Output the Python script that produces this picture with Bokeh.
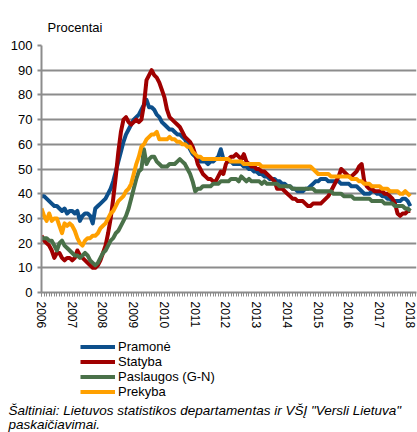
from bokeh.plotting import figure
from bokeh.layouts import column
from bokeh.models import (Legend, LegendItem, Label, FixedTicker, Range1d, Plot,
                          ColumnDataSource, Line)
from bokeh.embed import file_html
from bokeh.resources import INLINE

# ---- data (monthly, Jan 2006 .. Jan 2018) ----
start_year = 2006
series_names = ["Pramonė", "Statyba", "Paslaugos (G-N)", "Prekyba"]

pramone = [
    39, 39, 38, 37, 36, 35, 35, 34, 33, 34, 32, 33,
    33, 32, 33, 29, 31, 32, 32, 31, 28, 34, 35, 36,
    37, 38, 40, 42, 45, 49, 53, 57, 61, 64, 66, 68,
    70, 71, 72, 74, 76, 78, 75, 75, 74, 72, 71, 69,
    68, 67, 66, 66, 65, 64, 64, 63, 62, 60, 58, 56,
    55, 54, 53, 53, 53, 52, 53, 53, 54, 55, 58, 54,
    54, 53, 53, 52, 52, 52, 52, 51, 51, 50, 50, 49,
    49, 48, 48, 47, 47, 46, 46, 46, 45, 45, 44, 44,
    43, 43, 42, 42, 41, 41, 41, 42, 42, 43, 44, 45,
    45, 46, 46, 46, 45, 45, 45, 45, 45, 44, 44, 44,
    44, 43, 43, 43, 42, 41, 40, 40, 40, 41, 41, 40,
    40, 39, 39, 38, 38, 37, 37, 37, 37, 38, 38, 37,
    35,
]
statyba = [
    23, 21, 20, 19, 17, 14, 16, 16, 14, 13, 14, 14,
    13, 14, 17, 15, 14, 13, 12, 11, 10, 10, 11, 13,
    16, 19, 24, 30, 38, 47, 57, 65, 70, 71, 69, 68,
    69, 70, 69, 70, 76, 86, 88, 90, 88, 87, 85, 82,
    79, 74, 71, 70, 69, 68, 67, 65, 63, 62, 61, 59,
    56, 52, 50, 48, 47, 46, 46, 45, 45, 47, 49, 48,
    52, 54, 55, 55, 56, 55, 54, 56, 53, 52, 51, 51,
    50, 50, 49, 49, 48, 47, 46, 45, 42, 42, 42, 41,
    40, 39, 38, 38, 37, 37, 37, 36, 35, 35, 36, 36,
    36, 36, 37, 38, 39, 41, 43, 45, 47, 50, 49, 48,
    47, 47, 48, 49, 51, 52, 45, 43, 42, 42, 41, 41,
    41, 41, 40, 40, 39, 38, 36, 32, 31, 32, 32, 33,
    33,
]
paslaugos = [
    22, 22, 22, 21, 21, 19, 17, 20, 21, 19, 18, 17,
    16, 15, 15, 14, 15, 16, 15, 13, 12, 11, 12, 14,
    16, 17, 19, 21, 22, 24, 25, 27, 29, 31, 34, 38,
    42, 46, 49, 50, 58, 52, 54, 55, 55, 53, 52, 51,
    51, 51, 52, 52, 52, 53, 54, 53, 52, 50, 48, 45,
    41, 42, 42, 43, 43, 43, 43, 44, 44, 44, 45, 45,
    45, 45, 46, 46, 46, 45, 47, 46, 45, 46, 45, 45,
    45, 45, 44, 45, 44, 44, 44, 44, 44, 43, 43, 43,
    43, 43, 42, 42, 42, 42, 42, 42, 42, 42, 42, 41,
    41, 41, 41, 41, 41, 41, 40, 40, 40, 40, 39, 39,
    39, 39, 38, 38, 38, 38, 38, 38, 38, 37, 37, 37,
    37, 37, 36, 36, 36, 36, 35, 35, 35, 35, 34, 34,
    33,
]
prekyba = [
    34, 31, 29, 32, 29, 30, 30, 27, 24, 28, 27, 28,
    27, 25, 22, 20, 19, 21, 22, 22, 23, 23, 24, 26,
    27, 28, 30, 32, 33, 35, 37, 38, 39, 41, 42, 44,
    48, 52, 55, 59, 60, 62, 63, 64, 64, 65, 62, 62,
    62, 62, 63, 62, 62, 61, 61, 60, 60, 59, 59, 57,
    56, 55, 55, 54, 54, 54, 54, 54, 54, 54, 54, 54,
    54, 54, 53, 53, 53, 53, 53, 52, 52, 52, 52, 52,
    52, 52, 51, 51, 51, 51, 51, 51, 51, 51, 51, 51,
    51, 51, 51, 51, 51, 51, 51, 51, 51, 51, 50, 49,
    48, 48, 48, 48, 48, 47, 47, 47, 47, 47, 47, 47,
    47, 46, 46, 46, 45, 45, 44, 44, 44, 43, 43, 43,
    43, 42, 42, 42, 41, 41, 41, 41, 40, 40, 41, 40,
    39,
]
year_ticks = list(range(2006, 2019))
y_ticks = [0, 10, 20, 30, 40, 50, 60, 70, 80, 90, 100]
colors = ["#0d4f8b", "#a00000", "#4a7149", "#ffa000"]
y_title = "Procentai"
source_line1 = 'Šaltiniai: Lietuvos statistikos departamentas ir VŠĮ "Versli Lietuva"'
source_line2 = "paskaičiavimai."

months = [start_year + i / 12 for i in range(len(pramone))]

FONT = "Liberation Sans"
GRID = "#8c8c8c"

# ---------------- main chart ----------------
p = figure(width=417, height=334, output_backend="svg", toolbar_location=None,
           x_range=Range1d(2006, 2018.2), y_range=Range1d(0, 100),
           min_border_left=41, min_border_right=1, min_border_top=45,
           min_border_bottom=42)
p.outline_line_color = None
p.background_fill_color = "white"
p.border_fill_color = "white"

p.title.text = y_title
p.title.align = "left"
p.title.offset = 6
p.title.standoff = 21
p.title.text_font = FONT
p.title.text_font_size = "13px"
p.title.text_font_style = "normal"
p.title.text_color = "black"

for data, c in zip([pramone, statyba, paslaugos, prekyba], colors):
    p.line(months, data, line_color=c, line_width=4, line_join="round")

p.xaxis.ticker = FixedTicker(ticks=year_ticks,
                             minor_ticks=[start_year + i / 12 for i in range(147)])
p.xaxis.major_label_orientation = "vertical"
p.xaxis.major_label_text_font = FONT
p.xaxis.major_label_text_font_size = "12px"
p.xaxis.major_label_text_color = "black"
p.xaxis.axis_line_color = GRID
p.xaxis.axis_line_width = 2
p.xaxis.major_tick_line_color = GRID
p.xaxis.minor_tick_line_color = GRID
p.xaxis.major_tick_out = 4
p.xaxis.major_tick_in = 0
p.xaxis.minor_tick_out = 4
p.xaxis.minor_tick_in = 0
p.xaxis.major_label_standoff = 5

p.yaxis.ticker = FixedTicker(ticks=y_ticks)
p.yaxis.major_label_text_font = FONT
p.yaxis.major_label_text_font_size = "13px"
p.yaxis.major_label_text_color = "black"
p.yaxis.axis_line_color = GRID
p.yaxis.axis_line_width = 2
p.yaxis.major_tick_line_color = GRID
p.yaxis.major_tick_line_width = 2
p.yaxis.major_tick_out = 4
p.yaxis.major_tick_in = 0
p.yaxis.minor_tick_line_color = None
p.yaxis.major_label_standoff = 5

p.xgrid.grid_line_color = None
p.ygrid.grid_line_color = GRID
p.ygrid.grid_line_width = 2

# ---------------- legend + source panel (bare Plot, no axes) ----------------
q = Plot(width=417, height=98, output_backend="svg", toolbar_location=None,
         title=None, x_range=Range1d(0, 417), y_range=Range1d(0, 98),
         min_border=0, min_border_left=0, min_border_right=0,
         min_border_top=0, min_border_bottom=0,
         outline_line_color=None, background_fill_color="white",
         border_fill_color="white")

# keep each plot's frame independent inside the column
for plot in (p, q):
    if "frame_align" in plot.properties():
        plot.frame_align = False

nan = float("nan")
samples = []
for c in colors:
    src = ColumnDataSource(data=dict(x=[nan], y=[nan]))
    samples.append(q.add_glyph(src, Line(x="x", y="y", line_color=c, line_width=4)))
items = [LegendItem(label=n, renderers=[r]) for n, r in zip(series_names, samples)]
legend = Legend(items=items, location=(80, 33), orientation="vertical",
                glyph_width=35, glyph_height=15, label_height=15,
                spacing=0, padding=0, margin=0, label_standoff=3,
                label_text_font=FONT, label_text_font_size="13px",
                label_text_color="black",
                background_fill_alpha=0, border_line_color=None)
q.add_layout(legend, "center")

q.add_layout(Label(x=8, y=22, x_units="screen", y_units="screen",
                   text=source_line1, text_font=FONT, text_font_size="13.5px",
                   text_font_style="italic", text_color="black",
                   text_baseline="alphabetic"))
q.add_layout(Label(x=8, y=8, x_units="screen", y_units="screen",
                   text=source_line2, text_font=FONT, text_font_size="13.5px",
                   text_font_style="italic", text_color="black",
                   text_baseline="alphabetic"))

layout = column(p, q, spacing=0)
open("out.html", "w").write(file_html(layout, INLINE))
